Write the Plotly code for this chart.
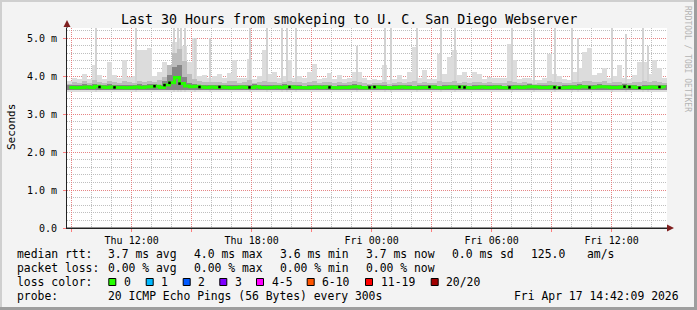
import plotly.graph_objects as go
from datetime import datetime, timedelta

# ---------------- data ----------------
title_text = "Last 30 Hours from smokeping to U. C. San Diego Webserver"
start_time = datetime(2026, 4, 16, 8, 46, 0)
span_hours = 30
step_minutes = 15

median_ms = [
    3.70, 3.69, 3.70, 3.71, 3.70, 3.73, 3.71, 3.70, 3.71, 3.70,
    3.70, 3.69, 3.70, 3.71, 3.70, 3.71, 3.72, 3.73, 3.70, 3.76,
    3.82, 3.96, 3.80, 3.74, 3.72, 3.73, 3.71, 3.70, 3.71, 3.70,
    3.71, 3.70, 3.69, 3.70, 3.71, 3.70, 3.70, 3.72, 3.70, 3.69,
    3.70, 3.71, 3.70, 3.72, 3.71, 3.70, 3.70, 3.69, 3.70, 3.71,
    3.70, 3.71, 3.70, 3.69, 3.70, 3.70, 3.71, 3.72, 3.70, 3.69,
    3.70, 3.71, 3.70, 3.70, 3.69, 3.70, 3.71, 3.70, 3.70, 3.69,
    3.70, 3.70, 3.71, 3.70, 3.69, 3.70, 3.71, 3.70, 3.71, 3.70,
    3.69, 3.70, 3.71, 3.70, 3.70, 3.71, 3.70, 3.69, 3.70, 3.71,
    3.70, 3.71, 3.72, 3.71, 3.70, 3.70, 3.71, 3.70, 3.69, 3.70,
    3.71, 3.70, 3.72, 3.71, 3.70, 3.71, 3.72, 3.71, 3.70, 3.70,
    3.71, 3.72, 3.71, 3.70, 3.69, 3.70, 3.71, 3.70, 3.71, 3.70,
]

light_top_ms = [
    3.88, 3.95, 3.93, 4.05, 3.92, 4.30, 4.03, 3.92, 4.38, 4.03,
    3.95, 4.42, 3.98, 4.00, 4.68, 4.68, 4.73, 4.00, 4.10, 4.38,
    4.00, 4.90, 5.00, 4.80, 4.38, 4.99, 4.00, 4.03, 3.95, 4.00,
    4.05, 3.95, 4.08, 4.42, 3.95, 3.95, 4.45, 3.92, 4.00, 4.68,
    4.05, 4.10, 3.95, 4.00, 4.42, 3.95, 4.00, 3.95, 4.10, 4.32,
    3.92, 3.95, 4.08, 3.93, 4.02, 3.92, 3.95, 4.10, 4.10, 3.95,
    3.90, 3.92, 3.90, 4.30, 3.90, 3.92, 4.03, 3.93, 4.10, 4.76,
    3.95, 4.15, 3.93, 3.92, 4.58, 4.05, 4.50, 4.68, 4.03, 4.10,
    3.95, 4.10, 4.05, 3.93, 3.98, 3.95, 3.94, 3.95, 4.84, 4.42,
    3.92, 3.94, 3.94, 3.90, 3.90, 3.94, 4.58, 4.05, 4.00, 3.93,
    3.90, 4.10, 4.20, 4.63, 4.73, 4.03, 4.08, 4.20, 3.95, 4.00,
    4.30, 3.95, 3.92, 4.03, 4.38, 4.38, 4.05, 4.42, 4.20, 3.95,
]

mid_top_ms = [
    3.80, 3.84, 3.82, 3.86, 3.82, 3.90, 3.84, 3.82, 3.88, 3.83,
    3.82, 3.86, 3.83, 3.82, 3.88, 3.85, 3.86, 3.84, 3.90, 3.98,
    4.30, 4.60, 4.70, 4.40, 4.05, 3.92, 3.86, 3.84, 3.85, 3.83,
    3.84, 3.82, 3.86, 3.88, 3.82, 3.83, 3.90, 3.82, 3.83, 3.86,
    3.84, 3.85, 3.82, 3.84, 3.86, 3.83, 3.84, 3.82, 3.85, 3.86,
    3.82, 3.83, 3.85, 3.82, 3.84, 3.82, 3.83, 3.86, 3.84, 3.82,
    3.80, 3.82, 3.81, 3.84, 3.80, 3.82, 3.84, 3.82, 3.83, 3.86,
    3.82, 3.85, 3.82, 3.81, 3.86, 3.83, 3.85, 3.86, 3.82, 3.84,
    3.82, 3.84, 3.83, 3.82, 3.83, 3.82, 3.81, 3.82, 3.86, 3.85,
    3.82, 3.83, 3.82, 3.80, 3.81, 3.82, 3.86, 3.83, 3.84, 3.82,
    3.81, 3.84, 3.85, 3.86, 3.88, 3.83, 3.84, 3.86, 3.82, 3.83,
    3.85, 3.82, 3.81, 3.84, 3.85, 3.86, 3.84, 3.86, 3.84, 3.82,
]

dark_top_ms = [
    3.76, 3.77, 3.76, 3.78, 3.76, 3.80, 3.77, 3.76, 3.78, 3.76,
    3.76, 3.77, 3.76, 3.77, 3.78, 3.77, 3.78, 3.80, 3.77, 3.86,
    4.02, 4.25, 4.30, 3.98, 3.82, 3.79, 3.77, 3.76, 3.77, 3.76,
    3.77, 3.76, 3.76, 3.77, 3.77, 3.76, 3.77, 3.78, 3.76, 3.76,
    3.76, 3.77, 3.76, 3.78, 3.77, 3.76, 3.77, 3.75, 3.76, 3.77,
    3.76, 3.77, 3.76, 3.75, 3.76, 3.76, 3.77, 3.78, 3.76, 3.75,
    3.76, 3.77, 3.76, 3.76, 3.75, 3.76, 3.77, 3.76, 3.76, 3.75,
    3.76, 3.76, 3.77, 3.76, 3.75, 3.76, 3.77, 3.76, 3.77, 3.76,
    3.75, 3.76, 3.77, 3.76, 3.76, 3.77, 3.76, 3.75, 3.76, 3.77,
    3.76, 3.77, 3.78, 3.77, 3.76, 3.76, 3.77, 3.76, 3.75, 3.76,
    3.77, 3.76, 3.78, 3.77, 3.76, 3.77, 3.78, 3.77, 3.76, 3.76,
    3.77, 3.78, 3.77, 3.76, 3.75, 3.76, 3.77, 3.76, 3.77, 3.76,
]

light_floor_ms = 3.59
mid_floor_ms = 3.62
dark_floor_ms = 3.64

spike_hours = [1.45, 3.45, 5.35, 5.55, 5.70, 5.90, 6.40, 7.15, 9.15, 10.0,
               10.75, 11.0, 11.45, 14.5, 15.9, 16.2, 17.5, 18.7, 19.4, 22.25,
               23.35, 24.4, 25.25, 25.55, 27.25, 27.95, 28.8, 29.05]
spike_top_ms = [5.3, 5.3, 5.3, 5.3, 5.3, 5.3, 5.0, 5.0, 5.3, 5.3,
                5.3, 5.3, 5.3, 4.8, 5.3, 5.3, 5.3, 5.3, 5.3, 5.3,
                5.3, 5.3, 5.3, 5.0, 5.3, 5.1, 5.3, 4.8]

black_dot_idx = [6, 9, 17, 19, 20, 22, 26, 30, 36, 44, 52, 60, 61, 72, 78,
                 79, 88, 97, 98, 104, 111, 112, 114, 118]

x_tick_vals = ["2026-04-16 09:00", "2026-04-16 12:00", "2026-04-16 15:00",
               "2026-04-16 18:00", "2026-04-16 21:00", "2026-04-17 00:00",
               "2026-04-17 03:00", "2026-04-17 06:00", "2026-04-17 09:00",
               "2026-04-17 12:00"]
x_tick_text = ["", "Thu 12:00", "", "Thu 18:00", "", "Fri 00:00", "",
               "Fri 06:00", "", "Fri 12:00"]
y_tick_vals = [0, 1, 2, 3, 4, 5]
y_tick_text = ["0.0", "1.0 m", "2.0 m", "3.0 m", "4.0 m", "5.0 m"]

loss_labels = ["0", "1", "2", "3", "4-5", "6-10", "11-19", "20/20"]
loss_colors = ["#26ff00", "#00b8ff", "#0059ff", "#7e00ff", "#ff00ff",
               "#ff5500", "#ff0000", "#a10000"]

rtt_stats = ["3.7 ms avg", "4.0 ms max", "3.6 ms min", "3.7 ms now",
             "0.0 ms sd", "125.0", "am/s"]
loss_stats = ["0.00 % avg", "0.00 % max", "0.00 % min", "0.00 % now"]
probe_text = "20 ICMP Echo Pings (56 Bytes) every 300s"
stamp_text = "Fri Apr 17 14:42:09 2026"

# ---------------- layout geometry (pixels) ----------------
W, H = 697, 310
PL, PR, PT, PB = 67, 667, 28, 228
PX_PER_MS = 38.0
y_max = (PB - PT) / PX_PER_MS

def px2x(px):
    return (px - PL) / (PR - PL)

def py2y(py):
    return (PB - py) / (PB - PT)

FONT = "DejaVu Sans Mono"

times = [start_time + timedelta(minutes=step_minutes * (i + 0.5)) for i in range(len(median_ms))]
end_time = start_time + timedelta(hours=span_hours)
step_ms = step_minutes * 60 * 1000

fig = go.Figure()

fig.add_trace(go.Bar(x=times, y=[t - light_floor_ms for t in light_top_ms], base=light_floor_ms,
                     width=step_ms, marker=dict(color="#dcdcdc", line=dict(width=0)), hoverinfo="skip"))
spike_times = [start_time + timedelta(hours=h) for h in spike_hours]
fig.add_trace(go.Bar(x=spike_times, y=[t - light_floor_ms for t in spike_top_ms], base=light_floor_ms,
                     width=6 * 60 * 1000, marker=dict(color="#d2d2d2", line=dict(width=0)), hoverinfo="skip"))
fig.add_trace(go.Bar(x=times, y=[t - mid_floor_ms for t in mid_top_ms], base=mid_floor_ms,
                     width=step_ms, marker=dict(color="#bcbcbc", line=dict(width=0)), hoverinfo="skip"))
fig.add_trace(go.Bar(x=times, y=[t - dark_floor_ms for t in dark_top_ms], base=dark_floor_ms,
                     width=step_ms, marker=dict(color="#858585", line=dict(width=0)), hoverinfo="skip"))
fig.add_trace(go.Scatter(x=times, y=median_ms, mode="lines", line=dict(color="#26ff00", width=3, shape="hv"),
                         hoverinfo="skip"))
fig.add_trace(go.Scatter(x=[times[i] for i in black_dot_idx], y=[median_ms[i] for i in black_dot_idx],
                         mode="markers", marker=dict(color="#000000", size=2.5, symbol="square"),
                         hoverinfo="skip"))

grid_minor = "rgba(170,170,170,0.75)"
grid_major = "rgba(255,95,95,0.6)"

fig.update_layout(
    width=W, height=H, autosize=False,
    margin=dict(l=PL, r=W - PR, t=PT, b=H - PB, pad=0),
    paper_bgcolor="#f3f3f3", plot_bgcolor="#ffffff",
    showlegend=False, barmode="overlay", bargap=0,
    font=dict(family=FONT, size=10, color="#000000"),
)
fig.update_xaxes(
    type="date", range=[start_time, end_time],
    tickmode="array", tickvals=x_tick_vals, ticktext=x_tick_text,
    showgrid=True, gridcolor=grid_major, griddash="1px,1px", gridwidth=1,
    ticks="outside", ticklen=3, tickcolor="rgba(255,95,95,0.8)", tickwidth=1,
    tickfont=dict(family=FONT, size=10),
    showline=True, linecolor="#222222", linewidth=1, zeroline=False,
    minor=dict(dtick=3600000, tick0="2026-04-16 09:00", showgrid=True, gridcolor=grid_minor,
               griddash="1px,1px", gridwidth=1, ticks="", ticklen=0),
    fixedrange=True,
)
fig.update_yaxes(
    range=[0, y_max], tickmode="array", tickvals=y_tick_vals, ticktext=y_tick_text,
    showgrid=True, gridcolor=grid_major, griddash="1px,1px", gridwidth=1,
    ticks="outside", ticklen=3, tickcolor="rgba(255,95,95,0.8)", tickwidth=1,
    ticklabelstandoff=4,
    tickfont=dict(family=FONT, size=10),
    showline=True, linecolor="#222222", linewidth=1, zeroline=False,
    minor=dict(dtick=0.2, tick0=0, showgrid=True, gridcolor=grid_minor,
               griddash="1px,1px", gridwidth=1, ticks=""),
    fixedrange=True,
)

shapes = []
# 3D frame
shapes.append(dict(type="rect", xref="paper", yref="paper", x0=px2x(0), x1=px2x(2), y0=py2y(H), y1=py2y(0),
                   fillcolor="#cfcfcf", line=dict(width=0), layer="above"))
shapes.append(dict(type="rect", xref="paper", yref="paper", x0=px2x(0), x1=px2x(W), y0=py2y(2), y1=py2y(0),
                   fillcolor="#cfcfcf", line=dict(width=0), layer="above"))
shapes.append(dict(type="rect", xref="paper", yref="paper", x0=px2x(W - 3), x1=px2x(W), y0=py2y(H), y1=py2y(0),
                   fillcolor="#9e9e9e", line=dict(width=0), layer="above"))
shapes.append(dict(type="rect", xref="paper", yref="paper", x0=px2x(0), x1=px2x(W), y0=py2y(H), y1=py2y(H - 3),
                   fillcolor="#9e9e9e", line=dict(width=0), layer="above"))
# axis extensions and arrows
shapes.append(dict(type="line", xref="paper", yref="paper", x0=0, x1=px2x(671), y0=0, y1=0,
                   line=dict(color="#222222", width=1)))
shapes.append(dict(type="line", xref="paper", yref="paper", x0=0, x1=0, y0=1, y1=py2y(24),
                   line=dict(color="#222222", width=1)))
shapes.append(dict(type="path", xref="paper", yref="paper",
                   path=f"M {px2x(667)} {py2y(224.5)} L {px2x(674)} {py2y(228)} L {px2x(667)} {py2y(231.5)} Z",
                   fillcolor="#7f1f1f", line=dict(width=0)))
shapes.append(dict(type="path", xref="paper", yref="paper",
                   path=f"M {px2x(63.5)} {py2y(27)} L {px2x(67)} {py2y(20)} L {px2x(70.5)} {py2y(27)} Z",
                   fillcolor="#7f1f1f", line=dict(width=0)))

annotations = []
def txt(text, px, py, size=11.4, anchor="left", color="#000000", angle=0):
    annotations.append(dict(text=text, x=px2x(px), y=py2y(py), xref="paper", yref="paper",
                            xanchor=anchor, yanchor="middle", showarrow=False, textangle=angle,
                            font=dict(family=FONT, size=size, color=color), borderpad=0))

txt(title_text, 348.5, 19, size=13.3, anchor="center")
txt("Seconds", 11, 127, size=11, anchor="center", angle=-90)
txt("RRDTOOL / TOBI OETIKER", 688, 59, size=8, anchor="center", color="#b4b4b4", angle=90)

row_y = [254.3, 268.3, 282.3, 296.0]
txt("median rtt:", 16, row_y[0])
for s, x in zip(rtt_stats, [107.3, 193.3, 279.3, 365.0, 451.0, 530.0, 585.7]):
    txt(s, x, row_y[0])
txt("packet loss:", 16, row_y[1])
for s, x in zip(loss_stats, [107.3, 193.3, 279.3, 365.0]):
    txt(s, x, row_y[1])
txt("loss color:", 16, row_y[2])
box_x = [108.3, 145.7, 182.7, 219.3, 256.0, 306.7, 365.0, 430.7]
for lab, col, bx in zip(loss_labels, loss_colors, box_x):
    shapes.append(dict(type="rect", xref="paper", yref="paper",
                       x0=px2x(bx + 0.5), x1=px2x(bx + 7.5), y0=py2y(285.5), y1=py2y(278.5),
                       fillcolor=col, line=dict(color="#000000", width=1)))
    txt(lab, bx + 14.5, row_y[2])
txt("probe:", 16, row_y[3])
txt(probe_text, 107.3, row_y[3])
txt(stamp_text, 513.3, row_y[3])

fig.update_layout(shapes=shapes, annotations=annotations)
fig.write_html("out.html")
